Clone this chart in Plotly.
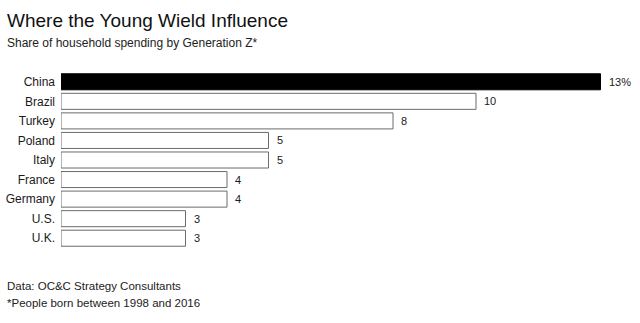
import plotly.graph_objects as go

countries = ["China", "Brazil", "Turkey", "Poland", "Italy", "France", "Germany", "U.S.", "U.K."]
shares = [13, 10, 8, 5, 5, 4, 4, 3, 3]
value_labels = ["13%", "10", "8", "5", "5", "4", "4", "3", "3"]

title = "Where the Young Wield Influence"
subtitle = "Share of household spending by Generation Z*"
source = "Data: OC&C Strategy Consultants"
note = "*People born between 1998 and 2016"

W, H = 640, 323
ML, MR, MT, MB = 61, 0, 72, 75
PW, PH = W - ML - MR, H - MT - MB
FONT = "Liberation Sans, Arial, Helvetica, sans-serif"

def px_x(x):
    return (x - ML) / PW

def px_y(y):
    return (H - MB - y) / PH

fills = ["#000000" if i == 0 else "#ffffff" for i in range(len(countries))]
lines = ["#000000" if i == 0 else "#6b6b6b" for i in range(len(countries))]

fig = go.Figure(go.Bar(
    x=shares, y=countries, orientation="h",
    marker=dict(color=fills, line=dict(color=lines, width=1)),
    width=0.82, hoverinfo="skip",
))

annotations = []
for c, v, lab in zip(countries, shares, value_labels):
    annotations.append(dict(x=v, y=c, xref="x", yref="y", text=lab, showarrow=False,
                            xanchor="left", yanchor="middle", xshift=6,
                            font=dict(family=FONT, size=11, color="#1a1a1a")))

annotations += [
    dict(x=px_x(5), y=px_y(20), xref="paper", yref="paper", text=title, showarrow=False,
         xanchor="left", yanchor="middle", font=dict(family=FONT, size=19, color="#111111")),
    dict(x=px_x(5), y=px_y(43), xref="paper", yref="paper", text=subtitle, showarrow=False,
         xanchor="left", yanchor="middle", font=dict(family=FONT, size=12, color="#222222")),
    dict(x=px_x(5), y=px_y(286), xref="paper", yref="paper", text=source, showarrow=False,
         xanchor="left", yanchor="middle", font=dict(family=FONT, size=11.5, color="#222222")),
    dict(x=px_x(5), y=px_y(303), xref="paper", yref="paper", text=note, showarrow=False,
         xanchor="left", yanchor="middle", font=dict(family=FONT, size=11.5, color="#222222")),
]

fig.update_layout(
    width=W, height=H, margin=dict(l=ML, r=MR, t=MT, b=MB),
    paper_bgcolor="white", plot_bgcolor="white",
    showlegend=False, annotations=annotations,
    xaxis=dict(range=[0, PW / 41.5], visible=False, fixedrange=True),
    yaxis=dict(autorange="reversed", showgrid=False, zeroline=False, showline=False,
               ticks="", ticklabelstandoff=5,
               tickfont=dict(family=FONT, size=12, color="#1a1a1a"), fixedrange=True),
)

fig.write_html("out.html", config={"displayModeBar": False})
